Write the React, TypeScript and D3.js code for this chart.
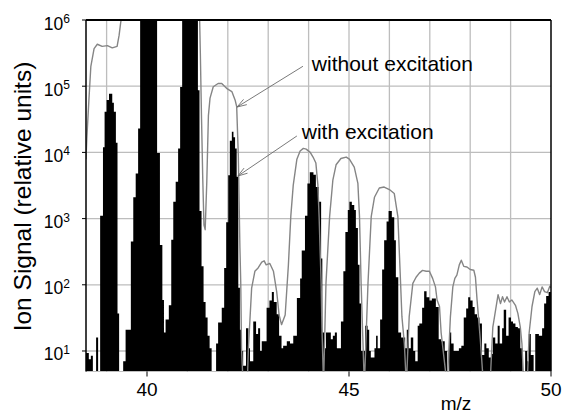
import React from 'react';
import * as d3 from 'd3';

const W = 562;
const H = 415;
const PLOT = { left: 86, right: 551, top: 20, bottom: 371.5 };

const xDomain: [number, number] = [38.49, 50];
const yDomain: [number, number] = [4.9, 1e6];
const xTickValues = [40, 45, 50];
const xGridValues = [39, 40, 41, 42, 43, 44, 45, 46, 47, 48, 49];
const yTickExponents = [1, 2, 3, 4, 5, 6];

// "with excitation" spectrum: step left edges (m/z) and signal
const withMz = [
  38.49, 38.56, 38.61, 38.66, 38.74, 38.79, 38.84, 38.91, 38.95, 39.0, 39.06, 39.14, 39.18, 39.23, 39.27, 39.31,
  39.41, 39.47, 39.6, 39.66, 39.72, 39.78, 39.83, 40.25, 40.32, 40.38, 40.42, 40.46, 40.54, 40.6, 40.65, 40.71,
  40.77, 40.82, 40.87, 41.26, 41.3, 41.35, 41.4, 41.45, 41.5, 41.55, 41.6, 41.71, 41.76, 41.85, 41.91, 41.96,
  42.01, 42.05, 42.1, 42.14, 42.18, 42.22, 42.26, 42.3, 42.34, 42.38, 42.45, 42.51, 42.55, 42.63, 42.7, 42.75,
  42.8, 42.84, 42.96, 43.03, 43.09, 43.14, 43.21, 43.27, 43.33, 43.37, 43.46, 43.54, 43.62, 43.71, 43.79, 43.83,
  43.91, 43.97, 44.03, 44.12, 44.18, 44.25, 44.31, 44.34, 44.39, 44.43, 44.55, 44.6, 44.65, 44.7, 44.8, 44.86,
  44.91, 44.97, 45.01, 45.07, 45.13, 45.17, 45.22, 45.26, 45.3, 45.4, 45.46, 45.5, 45.54, 45.63, 45.67, 45.71,
  45.77, 45.82, 45.87, 45.93, 45.98, 46.06, 46.12, 46.16, 46.22, 46.29, 46.39, 46.43, 46.48, 46.53, 46.59, 46.64,
  46.7, 46.74, 46.81, 46.86, 46.92, 46.99, 47.05, 47.15, 47.22, 47.28, 47.37, 47.43, 47.48, 47.53, 47.59, 47.72,
  47.78, 47.84, 47.9, 47.95, 48.0, 48.06, 48.11, 48.17, 48.23, 48.29, 48.35, 48.4, 48.46, 48.52, 48.56, 48.62,
  48.68, 48.73, 48.79, 48.83, 48.89, 48.95, 49.01, 49.06, 49.12, 49.18, 49.24, 49.3, 49.36, 49.41, 49.45, 49.5,
  49.57, 49.61, 49.7, 49.78, 49.83, 49.88, 49.94,
];
const withSignal = [
  9.3, 7.5, 8.5, 3, 16, 3, 1100, 12000, 41000, 62000, 77000, 56000, 41000, 14000, 37, 3,
  7, 21, 450, 2100, 4800, 23000, 3e6, 9800, 400, 59, 19, 30, 49, 480, 1800, 3600,
  11500, 97000, 3e6, 87000, 1300, 190, 55, 32, 17, 11, 3, 13, 27, 45, 180, 880,
  4500, 15000, 20500, 17000, 11500, 4300, 90, 21, 10, 6, 22, 11, 7, 28, 18, 22,
  10, 14, 45, 58, 78, 55, 36, 17, 11, 12, 14, 13, 17, 63, 125, 330,
  1100, 3400, 5000, 4600, 3000, 1800, 250, 19, 11, 19, 15, 17, 19, 11, 28, 160,
  630, 1350, 1800, 1600, 1350, 720, 200, 52, 10, 24, 21, 10, 8, 11, 17, 11,
  30, 170, 470, 900, 1300, 1050, 470, 130, 19, 16, 11, 21, 11, 16, 10, 7,
  24, 26, 45, 80, 65, 58, 62, 46, 15, 14, 10, 3, 19, 13, 10, 11,
  12, 32, 44, 65, 58, 46, 36, 32, 26, 8.7, 13, 11, 8, 9, 16, 13,
  24, 13, 22, 42, 17, 32, 28, 26, 23, 22, 11, 3, 10, 7, 18, 8.7,
  3, 18, 17, 22, 52, 68, 78,
];

// "without excitation" trace
const withoutMz = [
  38.49, 38.51, 38.56, 38.61, 38.69, 38.77, 38.89, 39.02, 39.14, 39.26, 39.31, 39.35, 39.39, 41.3, 41.32, 41.35,
  41.38, 41.41, 41.44, 41.48, 41.52, 41.56, 41.64, 41.76, 41.85, 41.97, 42.1, 42.18, 42.22, 42.26, 42.28, 42.3,
  42.32, 42.34, 42.38, 42.48, 42.51, 42.59, 42.67, 42.75, 42.84, 42.9, 42.95, 43.04, 43.13, 43.21, 43.27, 43.33,
  43.42, 43.5, 43.56, 43.62, 43.71, 43.79, 43.87, 43.94, 44.04, 44.11, 44.18, 44.23, 44.26, 44.31, 44.33, 44.37,
  44.43, 44.52, 44.6, 44.68, 44.8, 44.93, 45.01, 45.13, 45.22, 45.26, 45.3, 45.34, 45.38, 45.47, 45.55, 45.63,
  45.75, 45.87, 46.0, 46.12, 46.21, 46.26, 46.31, 46.37, 46.42, 46.49, 46.58, 46.66, 46.74, 46.82, 46.91, 46.99,
  47.07, 47.14, 47.18, 47.24, 47.28, 47.34, 47.43, 47.51, 47.57, 47.62, 47.67, 47.73, 47.78, 47.84, 47.92, 48.0,
  48.09, 48.13, 48.17, 48.21, 48.25, 48.33, 48.49, 48.56, 48.63, 48.69, 48.75, 48.8, 48.85, 48.91, 48.97, 49.03,
  49.12, 49.18, 49.24, 49.28, 49.33, 49.41, 49.46, 49.53, 49.6, 49.66, 49.72, 49.78, 49.84, 49.91, 49.97, 50.0,
];
const withoutSignal = [
  7900, 16000, 59000, 200000, 370000, 430000, 400000, 410000, 380000, 400000, 590000, 930000, 1.2e6, 1.2e6, 320000, 32000,
  4000, 800, 680, 3600, 36000, 66000, 98000, 110000, 110000, 93000, 83000, 62000, 49000, 9100, 1800, 360,
  110, 11, 3, 3, 11, 89, 160, 180, 220, 230, 200, 210, 160, 79, 35, 25,
  35, 200, 1100, 3200, 7900, 10500, 11500, 11200, 10000, 8500, 6900, 3200, 1070, 107, 23, 3,
  105, 1070, 3800, 6500, 8100, 8500, 7900, 6000, 3400, 1070, 105, 17, 3, 105, 1070, 2100,
  2900, 3000, 2750, 2400, 1070, 190, 33, 13, 3, 33, 105, 130, 150, 165, 160, 160,
  125, 93, 59, 47, 19, 9, 3, 33, 93, 125, 140, 200, 235, 190, 186, 170,
  166, 130, 59, 30, 15, 3, 3, 23, 42, 71, 52, 66, 55, 66, 55, 59,
  49, 37, 23, 13, 3, 3, 19, 47, 79, 89, 71, 93, 79, 76, 95, 90,
];

const annotations = [
  { label: 'without excitation', textMz: 44.08, textSignal: 1.67e5, fromMz: 43.86, fromSignal: 2.0e5, toMz: 42.23, toSignal: 4.85e4 },
  { label: 'with excitation', textMz: 43.83, textSignal: 16200, fromMz: 43.71, fromSignal: 17700, toMz: 42.25, toSignal: 4400 },
];

const FONT = "'Liberation Sans', Arial, Helvetica, sans-serif";

export default function App() {
  const x = d3.scaleLinear().domain(xDomain).range([PLOT.left, PLOT.right]);
  const y = d3.scaleLog().domain(yDomain).range([PLOT.bottom, PLOT.top]);

  const withPts = withMz.map((m, i) => ({ m, v: withSignal[i] }));
  withPts.push({ m: xDomain[1], v: withSignal[withSignal.length - 1] });
  const area = d3
    .area<{ m: number; v: number }>()
    .x((d) => x(d.m))
    .y0(PLOT.bottom)
    .y1((d) => y(d.v))
    .curve(d3.curveStepAfter);

  const withoutPts = withoutMz.map((m, i) => ({ m, v: withoutSignal[i] }));
  const line = d3
    .line<{ m: number; v: number }>()
    .x((d) => x(d.m))
    .y((d) => y(d.v));

  const arrowHead = (x1: number, y1: number, x2: number, y2: number) => {
    const dx = x1 - x2;
    const dy = y1 - y2;
    const len = Math.hypot(dx, dy);
    const ux = dx / len;
    const uy = dy / len;
    const L = 10;
    const a = (18 * Math.PI) / 180;
    const r = (ang: number) => [x2 + L * (ux * Math.cos(ang) - uy * Math.sin(ang)), y2 + L * (ux * Math.sin(ang) + uy * Math.cos(ang))];
    const p1 = r(a);
    const p2 = r(-a);
    return `M${p1[0]},${p1[1]}L${x2},${y2}L${p2[0]},${p2[1]}`;
  };

  return (
    <svg width={W} height={H} style={{ position: 'absolute', left: 0, top: 0, background: '#fff' }} fontFamily={FONT}>
      <defs>
        <clipPath id="plotClip">
          <rect x={PLOT.left} y={PLOT.top} width={PLOT.right - PLOT.left} height={PLOT.bottom - PLOT.top} />
        </clipPath>
      </defs>
      <rect x={0} y={0} width={W} height={H} fill="#fff" />
      {/* grid */}
      <g stroke="#bdbdbd" strokeWidth={1.3}>
        {xGridValues.map((g) => (
          <line key={'gx' + g} x1={x(g)} x2={x(g)} y1={PLOT.top} y2={PLOT.bottom} />
        ))}
        {yTickExponents.slice(0, -1).map((e) => (
          <line key={'gy' + e} x1={PLOT.left} x2={PLOT.right} y1={y(Math.pow(10, e))} y2={y(Math.pow(10, e))} />
        ))}
      </g>
      <g clipPath="url(#plotClip)">
        <path d={area(withPts) || ''} fill="#000" />
        <path d={line(withoutPts) || ''} fill="none" stroke="#858585" strokeWidth={1.4} strokeLinejoin="round" />
      </g>
      {/* frame */}
      <g stroke="#000" fill="none">
        <line x1={PLOT.left} x2={PLOT.right} y1={PLOT.top} y2={PLOT.top} strokeWidth={2} />
        <line x1={PLOT.left} x2={PLOT.left} y1={PLOT.top} y2={PLOT.bottom} strokeWidth={1.5} />
        <line x1={PLOT.right} x2={PLOT.right} y1={PLOT.top} y2={PLOT.bottom} strokeWidth={1.5} />
      </g>
      {/* y ticks */}
      {yTickExponents.map((e) => (
        <g key={'yt' + e}>
          <line x1={PLOT.left - 4} x2={PLOT.left} y1={y(Math.pow(10, e))} y2={y(Math.pow(10, e))} stroke="#000" strokeWidth={1} />
          <text x={70} y={y(Math.pow(10, e)) + 9.5} textAnchor="end" fontSize={17.5} fill="#000">
            10<tspan dy={-6.5} fontSize={12}>{e}</tspan>
          </text>
        </g>
      ))}
      {/* x ticks */}
      {xTickValues.map((t) => (
        <g key={'xt' + t}>
          <line x1={x(t)} x2={x(t)} y1={PLOT.bottom} y2={PLOT.bottom + 5} stroke="#000" strokeWidth={1} />
          <text x={x(t)} y={396} textAnchor="middle" fontSize={19} fill="#000">
            {t}
          </text>
        </g>
      ))}
      <text x={456} y={410} textAnchor="middle" fontSize={19} fill="#000">
        m/z
      </text>
      <text transform={`translate(31,196.5) rotate(-90)`} textAnchor="middle" fontSize={24.5} fill="#000">
        Ion Signal (relative units)
      </text>
      {/* annotations */}
      {annotations.map((a) => {
        const x1 = x(a.fromMz);
        const y1 = y(a.fromSignal);
        const x2 = x(a.toMz);
        const y2 = y(a.toSignal);
        return (
          <g key={a.label}>
            <line x1={x1} y1={y1} x2={x2} y2={y2} stroke="#6a6a6a" strokeWidth={0.9} />
            <path d={arrowHead(x1, y1, x2, y2)} fill="none" stroke="#6a6a6a" strokeWidth={0.9} />
            <text x={x(a.textMz)} y={y(a.textSignal)} fontSize={21} fill="#000">
              {a.label}
            </text>
          </g>
        );
      })}
    </svg>
  );
}
